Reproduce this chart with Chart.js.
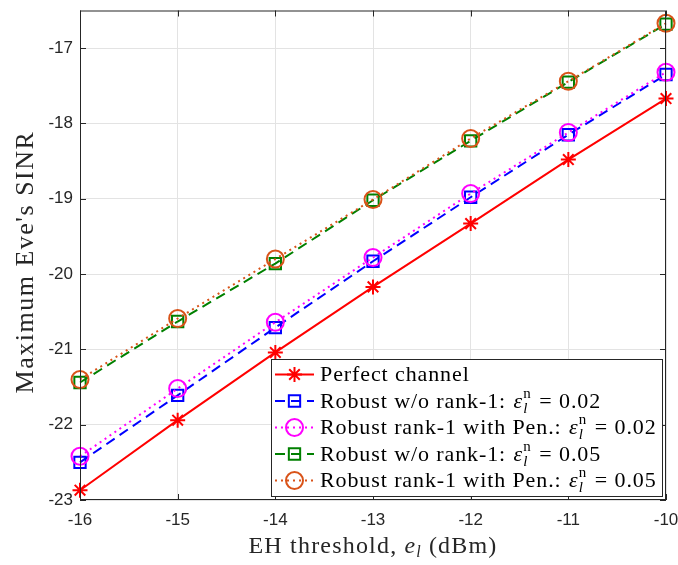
<!DOCTYPE html>
<html>
<head>
<meta charset="utf-8">
<script src="https://cdn.jsdelivr.net/npm/chart.js@4"></script>
<style>
  html, body { margin: 0; padding: 0; background: #fff; }
  #wrap { width: 678px; height: 565px; }
</style>
</head>
<body>
<div id="wrap"><canvas id="chart" width="678" height="565"></canvas></div>
<script>
// x values: EH threshold (dBm)
const thresholds = [-16, -15, -14, -13, -12, -11, -10];
const yTicks = [-23, -22, -21, -20, -19, -18, -17];

// series
const perfect     = [-22.87, -21.94, -21.04, -20.17, -19.33, -18.48, -17.67];
const robust002   = [-22.50, -21.61, -20.71, -19.83, -18.98, -18.15, -17.35];
const penalty002  = [-22.42, -21.52, -20.64, -19.78, -18.93, -18.12, -17.32];
const robust005   = [-21.44, -20.63, -19.86, -19.02, -18.23, -17.45, -16.68];
const penalty005  = [-21.40, -20.59, -19.80, -19.01, -18.20, -17.44, -16.67];

const labels = [
    'Perfect channel',
    'Robust w/o rank-1: ',
    'Robust rank-1 with Pen.: ',
    'Robust w/o rank-1: ',
    'Robust rank-1 with Pen.: '
];
const epsValues = [null, '0.02', '0.02', '0.05', '0.05'];

const colors = ['#ff0000', '#0000ff', '#ff00ff', '#008000', '#d95319'];
const dashes = [[], [10, 6], [2, 4], [10, 6], [2, 4]];
const markers = ['star', 'rect', 'circle', 'rect', 'circle'];
const radii = [7.5, 8, 8.5, 8, 8.5];

const seriesData = [perfect, robust002, penalty002, robust005, penalty005];

const datasets = seriesData.map((vals, i) => ({
    label: labels[i],
    data: vals.map((v, j) => ({ x: thresholds[j], y: v })),
    borderColor: colors[i],
    borderWidth: 2,
    borderDash: dashes[i],
    pointStyle: markers[i],
    pointRadius: radii[i],
    pointBorderWidth: 2,
    pointBorderColor: colors[i],
    pointBackgroundColor: 'rgba(0,0,0,0)',
    pointHoverRadius: radii[i],
    tension: 0,
    clip: false,
    order: 5 - i
}));

const axisColor = '#262626';
const serif = '"Liberation Serif"';

function drawParts(ctx, parts, x, y) {
    parts.forEach(p => {
        ctx.font = p.f;
        ctx.letterSpacing = (p.ls || 0) + 'px';
        if (p.gap) x += p.gap;
        ctx.fillText(p.t, x, y + (p.dy || 0));
        if (!p.keep) x += ctx.measureText(p.t).width;
    });
    ctx.letterSpacing = '0px';
    return x;
}

function partsWidth(ctx, parts) {
    let w = 0;
    parts.forEach(p => {
        ctx.font = p.f;
        ctx.letterSpacing = (p.ls || 0) + 'px';
        if (p.gap) w += p.gap;
        if (!p.keep) w += ctx.measureText(p.t).width;
    });
    ctx.letterSpacing = '0px';
    return w;
}

// box, inward ticks, axis titles and legend, MATLAB style
const framePlugin = {
    id: 'frame',
    afterDatasetsDraw(chart) {
        const ctx = chart.ctx;
        const a = chart.chartArea;
        const xs = chart.scales.x, ys = chart.scales.y;
        ctx.save();
        ctx.strokeStyle = axisColor;
        ctx.lineWidth = 1;
        ctx.strokeRect(a.left + 0.5, a.top + 0.5, a.right - a.left - 1, a.bottom - a.top - 1);
        ctx.beginPath();
        thresholds.forEach(t => {
            const px = Math.round(xs.getPixelForValue(t)) + 0.5;
            ctx.moveTo(px, a.bottom); ctx.lineTo(px, a.bottom - 6);
            ctx.moveTo(px, a.top); ctx.lineTo(px, a.top + 6);
        });
        yTicks.forEach(t => {
            const py = Math.round(ys.getPixelForValue(t)) + 0.5;
            ctx.moveTo(a.left, py); ctx.lineTo(a.left + 6, py);
            ctx.moveTo(a.right, py); ctx.lineTo(a.right - 6, py);
        });
        ctx.stroke();
        ctx.restore();
    },
    afterDraw(chart) {
        const ctx = chart.ctx;
        const a = chart.chartArea;
        ctx.save();
        ctx.fillStyle = axisColor;
        ctx.textBaseline = 'alphabetic';

        // x title: EH threshold, e_l (dBm)
        const xParts = [
            { t: 'EH threshold, ', f: '24px ' + serif, ls: 1.2 },
            { t: 'e', f: 'italic 24px ' + serif },
            { t: 'l', f: 'italic 16px ' + serif, dy: 4, gap: 1 },
            { t: ' (dBm)', f: '24px ' + serif, ls: 1.2, gap: 1 }
        ];
        const xw = partsWidth(ctx, xParts);
        drawParts(ctx, xParts, (a.left + a.right) / 2 - xw / 2, 553);

        // y title
        ctx.save();
        ctx.translate(33, 262);
        ctx.rotate(-Math.PI / 2);
        const yParts = [{ t: "Maximum Eve's SINR", f: '26px ' + serif, ls: 1.5 }];
        const yw = partsWidth(ctx, yParts);
        drawParts(ctx, yParts, -yw / 2, 0);
        ctx.restore();

        // legend box
        const box = { l: 271, t: 359, r: 663, b: 497 };
        ctx.fillStyle = '#fff';
        ctx.fillRect(box.l, box.t, box.r - box.l, box.b - box.t);
        ctx.strokeStyle = axisColor;
        ctx.lineWidth = 1;
        ctx.strokeRect(box.l + 0.5, box.t + 0.5, box.r - box.l - 1, box.b - box.t - 1);

        chart.data.datasets.forEach((ds, i) => {
            const ry = 374.5 + i * 26.5;
            ctx.save();
            ctx.strokeStyle = ds.borderColor;
            ctx.lineWidth = 2;
            ctx.setLineDash(ds.borderDash);
            ctx.beginPath();
            ctx.moveTo(275, ry); ctx.lineTo(314, ry);
            ctx.stroke();
            ctx.setLineDash([]);
            ctx.fillStyle = 'rgba(0,0,0,0)';
            Chart.helpers.drawPoint(ctx, {
                pointStyle: ds.pointStyle,
                radius: ds.pointRadius,
                borderWidth: 2,
                rotation: 0
            }, 294.5, ry);
            ctx.restore();

            ctx.fillStyle = '#000';
            ctx.textBaseline = 'middle';
            const segs = [{ t: ds.label, f: '22px ' + serif, ls: 0.9 }];
            if (epsValues[i]) {
                segs.push({ t: 'ε', f: 'italic 22px ' + serif, gap: 1 });
                segs.push({ t: 'n', f: '15px ' + serif, dy: -8, keep: true, gap: 1 });
                segs.push({ t: 'l', f: 'italic 15px ' + serif, dy: 7 });
                segs.push({ t: '= ' + epsValues[i], f: '22px ' + serif, ls: 0.9, gap: 12 });
            }
            drawParts(ctx, segs, 320, ry + 1);
        });
        ctx.restore();
    }
};

new Chart(document.getElementById('chart'), {
    type: 'line',
    data: { datasets: datasets },
    options: {
        responsive: false,
        animation: false,
        events: [],
        layout: { padding: { top: 8, right: 12, left: 0, bottom: 0 } },
        plugins: {
            legend: { display: false },
            tooltip: { enabled: false }
        },
        scales: {
            x: {
                type: 'linear',
                min: -16,
                max: -10,
                afterBuildTicks: axis => { axis.ticks = thresholds.map(v => ({ value: v })); },
                afterFit: axis => {
                    axis.height = 65;
                    axis.paddingLeft = 0;
                    axis.paddingRight = 0;
                },
                grid: { color: '#e3e3e3', drawTicks: false },
                border: { display: false },
                ticks: {
                    color: axisColor,
                    font: { family: 'Liberation Sans', size: 17 },
                    padding: 10,
                    maxRotation: 0
                }
            },
            y: {
                type: 'linear',
                min: -23,
                max: -16.5,
                afterBuildTicks: axis => { axis.ticks = yTicks.map(v => ({ value: v })); },
                afterFit: axis => {
                    axis.width = 80;
                    axis.paddingTop = 0;
                    axis.paddingBottom = 0;
                },
                grid: { color: '#e3e3e3', drawTicks: false },
                border: { display: false },
                ticks: {
                    color: axisColor,
                    font: { family: 'Liberation Sans', size: 17 },
                    padding: 7
                }
            }
        }
    },
    plugins: [framePlugin]
});
</script>
</body>
</html>
